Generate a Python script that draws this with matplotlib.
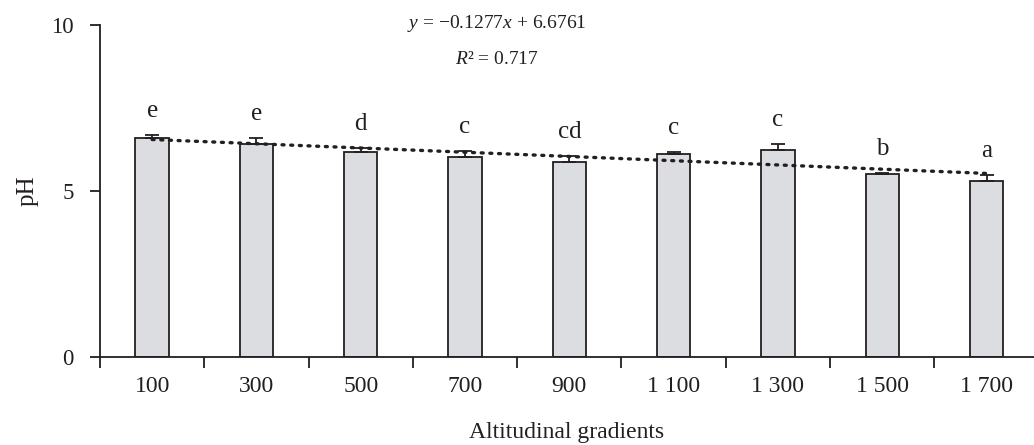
import matplotlib.pyplot as plt
import numpy as np

# Data
altitudes = ["100", "300", "500", "700", "900", "1 100", "1 300", "1 500", "1 700"]
ph = [6.59, 6.41, 6.18, 6.03, 5.88, 6.10, 6.23, 5.50, 5.30]
ph_err = [0.10, 0.19, 0.11, 0.18, 0.17, 0.08, 0.18, 0.05, 0.18]
letters = ["e", "e", "d", "c", "cd", "c", "c", "b", "a"]
slope, intercept = -0.1277, 6.6761

plt.rcParams["font.family"] = ["Liberation Serif", "DejaVu Serif"]
plt.rcParams["mathtext.fontset"] = "custom"
plt.rcParams["mathtext.it"] = "Liberation Serif:italic"
plt.rcParams["mathtext.rm"] = "Liberation Serif"

ink = "#231f20"
fig = plt.figure(figsize=(10.34, 4.45), dpi=100)
ax = fig.add_axes([0.0967, 0.198, 0.9033, 0.746])

x = np.arange(len(altitudes))
ax.bar(x, ph, width=0.32, color="#dcdde0", edgecolor=ink, linewidth=1.3, zorder=2)
ax.errorbar(x, ph, yerr=[np.zeros(len(ph)), ph_err], fmt="none",
            ecolor=ink, elinewidth=1.3, capsize=5, capthick=1.3, zorder=3)

# linear trend line (x = 1..9)
trend = slope * (x + 1) + intercept
ax.plot(x, trend, linestyle=(0, (0.6, 2.0)), color=ink, linewidth=2.4,
        dash_capstyle="round", zorder=4)

# significance letters
for xi, top, lab in zip(x, np.array(ph) + np.array(ph_err), letters):
    ax.text(xi, top + 0.72, lab, ha="center", va="center", fontsize=18, color=ink)

ax.text(0.425, 1.005, r"$y$ = −0.1277$x$ + 6.6761", transform=ax.transAxes,
        ha="center", va="center", fontsize=14, color=ink)
ax.text(0.425, 0.895, r"$R$² = 0.717", transform=ax.transAxes,
        ha="center", va="center", fontsize=14, color=ink)

ax.set_xlim(-0.5, 8.455)
ax.set_ylim(0, 10)
ax.set_yticks([0, 5, 10])
ax.set_xticks(x)
ax.set_xticklabels(altitudes)
ax.set_xticks(np.arange(-0.5, 8.5, 1), minor=True)
ax.tick_params(axis="x", which="major", length=0, pad=14, labelsize=17, colors=ink)
ax.tick_params(axis="x", which="minor", length=8, width=1.3, color=ink)
ax.tick_params(axis="y", length=7, width=1.3, pad=12, labelsize=16.5, colors=ink)

for side in ["top", "right"]:
    ax.spines[side].set_visible(False)
for side in ["left", "bottom"]:
    ax.spines[side].set_linewidth(1.3)
    ax.spines[side].set_color(ink)

ax.set_ylabel("pH", fontsize=18, color=ink, labelpad=9)
ax.set_xlabel("Altitudinal gradients", fontsize=17, color=ink, labelpad=18)

fig.savefig("out.png", dpi=100)
